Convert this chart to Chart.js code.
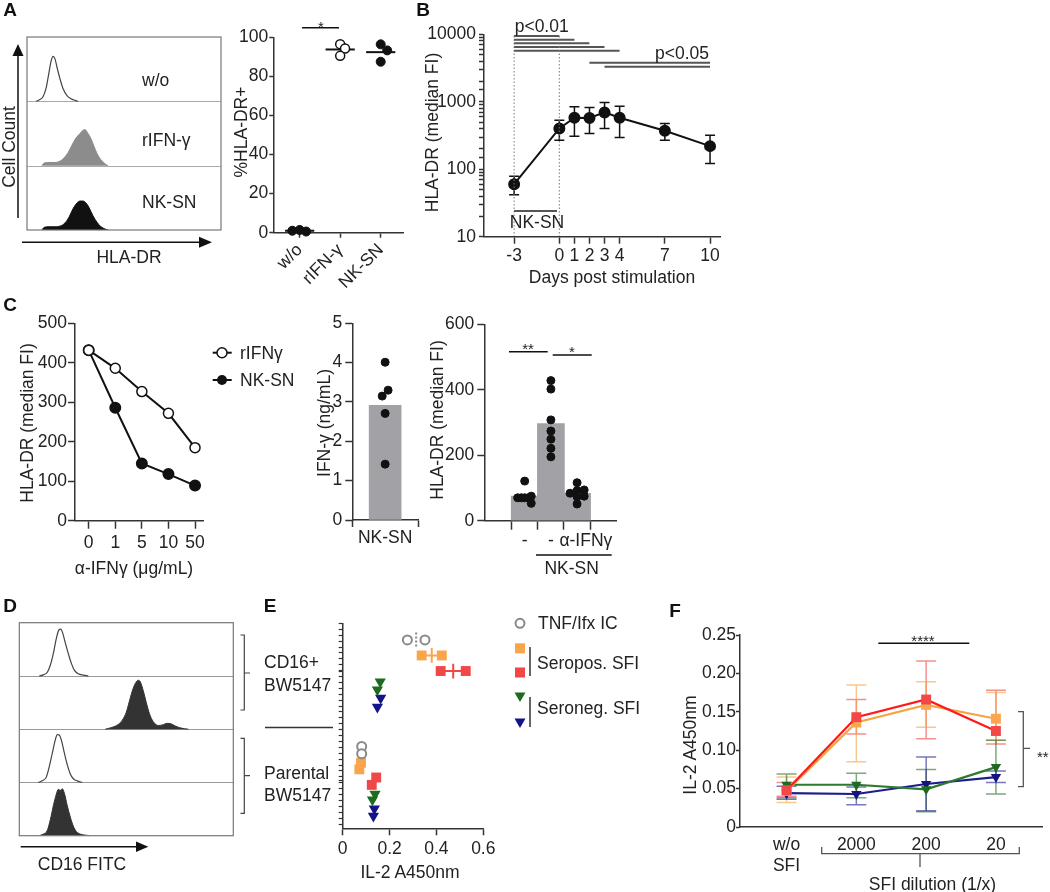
<!DOCTYPE html>
<html><head><meta charset="utf-8"><title>Figure</title>
<script src="https://cdn.jsdelivr.net/npm/chart.js@4.4.1/dist/chart.umd.min.js"></script>
<style>
html,body{margin:0;padding:0;background:#fff}
body{position:relative;width:1050px;height:892px;overflow:hidden}
canvas{position:absolute;z-index:1}
#ann{position:absolute;left:0;top:0;z-index:2}
#ann text{font-family:'Liberation Sans',Arial,sans-serif;font-size:17.5px;fill:#222;text-anchor:middle;dominant-baseline:central}
#ann text.st{text-anchor:start}
#ann text.L{font-weight:bold;font-size:19px;fill:#111}
#ann text.s{font-size:15px}
</style></head><body>
<svg id="ann" width="1050" height="892" xmlns="http://www.w3.org/2000/svg">
  <!-- panel letters -->
  <text class="L" x="10" y="9">A</text><text class="L" x="423" y="9">B</text>
  <text class="L" x="10" y="304">C</text><text class="L" x="10" y="605">D</text>
  <text class="L" x="270" y="605">E</text><text class="L" x="675" y="610">F</text>
  <!-- A histogram axes -->
  <g stroke="#111" stroke-width="1.5">
    <line x1="18" y1="218" x2="18" y2="54"/>
    <line x1="22" y1="242.3" x2="201" y2="242.3"/>
    <line x1="20.7" y1="846.7" x2="137" y2="846.7"/>
  </g>
  <polygon points="18,44 12.5,56 23.5,56" fill="#111"/>
  <polygon points="212,242.3 199,236.8 199,247.8" fill="#111"/>
  <polygon points="148.3,846.7 136,841.5 136,851.9" fill="#111"/>
  <text x="9" y="147" transform="rotate(-90 9 147)">Cell Count</text>
  <text x="129" y="257">HLA-DR</text>
  <text class="st" x="142" y="80">w/o</text>
  <text class="st" x="142" y="140">rIFN-γ</text>
  <text class="st" x="142" y="201.7">NK-SN</text>
  <!-- A dot plot -->
  <line x1="302" y1="27.7" x2="339" y2="27.7" stroke="#111" stroke-width="1.5"/>
  <text class="s" x="321" y="26">*</text>
  <text x="241" y="132" transform="rotate(-90 241 132)">%HLA-DR+</text>
  <!-- B -->
  <g stroke="#555" stroke-width="2">
    <line x1="514" y1="36" x2="559.3" y2="36"/>
    <line x1="514" y1="39.7" x2="574.4" y2="39.7"/>
    <line x1="514" y1="43.3" x2="589.4" y2="43.3"/>
    <line x1="514" y1="47" x2="604.5" y2="47"/>
    <line x1="514" y1="50.7" x2="619.6" y2="50.7"/>
    <line x1="589.4" y1="62.7" x2="710" y2="62.7"/>
    <line x1="604.5" y1="66.7" x2="710" y2="66.7"/>
    <line x1="514" y1="211" x2="557" y2="211"/>
  </g>
  <g stroke="#777" stroke-width="1" stroke-dasharray="1.5,2">
    <line x1="514.1" y1="36" x2="514.1" y2="236"/>
    <line x1="559.3" y1="36" x2="559.3" y2="236"/>
  </g>
  <text x="541.7" y="26">p&lt;0.01</text>
  <text x="682" y="52.5">p&lt;0.05</text>
  <text x="537" y="222">NK-SN</text>
  <text x="432" y="132.5" transform="rotate(-90 432 132.5)">HLA-DR (median FI)</text>
  <text x="612" y="277">Days post stimulation</text>
  <!-- C left -->
  <g stroke="#111" stroke-width="2">
    <line x1="212.7" y1="352.7" x2="231.7" y2="352.7"/>
    <line x1="212.7" y1="380" x2="231.7" y2="380"/>
  </g>
  <circle cx="222" cy="352.7" r="5" fill="#fff" stroke="#111" stroke-width="1.5"/>
  <circle cx="222" cy="380" r="5" fill="#111"/>
  <text class="st" x="240" y="352.7">rIFNγ</text>
  <text class="st" x="240" y="380">NK-SN</text>
  <text x="27" y="423" transform="rotate(-90 27 423)">HLA-DR (median FI)</text>
  <text x="134" y="568">α-IFNγ (μg/mL)</text>
  <!-- C middle / right -->
  <text x="324" y="423" transform="rotate(-90 324 423)">IFN-γ (ng/mL)</text>
  <text x="437" y="420" transform="rotate(-90 437 420)">HLA-DR (median FI)</text>
  <g stroke="#111" stroke-width="1.5">
    <line x1="509" y1="351.7" x2="547.7" y2="351.7"/>
    <line x1="552.7" y1="355" x2="591.7" y2="355"/>
    <line x1="536" y1="555" x2="611.7" y2="555"/>
  </g>
  <text class="s" x="528" y="348">**</text>
  <text class="s" x="572" y="351">*</text>
  <text x="571.7" y="568.3">NK-SN</text>
  <!-- D -->
  <g stroke="#444" stroke-width="1.2" fill="none">
    <path d="M240.5,635 H244.3 V710 H240.5 M244.3,673 H250"/>
    <path d="M240.5,738.3 H244.3 V813.3 H240.5 M244.3,775.7 H250"/>
  </g>
  <line x1="265" y1="727.5" x2="333" y2="727.5" stroke="#333" stroke-width="1.5"/>
  <text class="st" x="264" y="662.3">CD16+</text>
  <text class="st" x="264" y="685">BW5147</text>
  <text class="st" x="264" y="773.3">Parental</text>
  <text class="st" x="264" y="795">BW5147</text>
  <text x="82" y="863.5">CD16 FITC</text>
  <!-- E legend -->
  <circle cx="520" cy="623.3" r="4.5" fill="#fff" stroke="#888" stroke-width="2"/>
  <text class="st" x="538" y="623.3">TNF/Ifx IC</text>
  <rect x="515" y="643.3" width="10" height="10" fill="#f9a54b"/>
  <rect x="515" y="667.5" width="10" height="10" fill="#f04848"/>
  <polygon points="514.5,692.5 525.5,692.5 520,702" fill="#1e6b1e"/>
  <polygon points="514.5,718.5 525.5,718.5 520,728" fill="#14148a"/>
  <g stroke="#333" stroke-width="1.5">
    <line x1="530" y1="647" x2="530" y2="676"/>
    <line x1="530" y1="697" x2="530" y2="727"/>
  </g>
  <text class="st" x="537" y="663.3">Seropos. SFI</text>
  <text class="st" x="537" y="708.3">Seroneg. SFI</text>
  <text x="410" y="872">IL-2 A450nm</text>
  <!-- F -->
  <line x1="878.3" y1="643.3" x2="969.3" y2="643.3" stroke="#111" stroke-width="1.5"/>
  <text class="s" x="923" y="640">****</text>
  <g stroke="#555" stroke-width="1.3" fill="none">
    <path d="M1018,711.7 H1023.3 V786.7 H1018 M1023.3,748.3 H1030"/>
    <path d="M821.7,847 V853.7 H1019.3 V847 M920,853.7 V867"/>
  </g>
  <text class="st s" x="1037" y="756">**</text>
  <text x="932.5" y="884">SFI dilution (1/x)</text>
  <text x="690" y="745" transform="rotate(-90 690 745)">IL-2 A450nm</text>
</svg>
<script>
// ================= DATA =================
// Panel A – flow histograms: [channel, fraction of lane height]
const aHistWo  = [[9,0],[12,0.02],[16,0.07],[19,0.2],[22,0.45],[24,0.62],[26,0.7],[28,0.66],[30,0.53],[33,0.35],[36,0.2],[40,0.09],[44,0.04],[48,0.015],[51,0]];
const aHistIfn = [[15,0],[17,0.04],[22,0.05],[28,0.05],[33,0.07],[37,0.12],[41,0.2],[45,0.32],[49,0.43],[53,0.5],[56,0.55],[58,0.56],[61,0.5],[64,0.42],[67,0.3],[70,0.19],[74,0.09],[78,0.03],[81,0]];
const aHistNk  = [[15,0],[17,0.04],[22,0.05],[28,0.05],[33,0.06],[38,0.11],[42,0.2],[46,0.33],[50,0.42],[53,0.45],[56,0.45],[59,0.42],[62,0.35],[66,0.22],[70,0.12],[74,0.05],[78,0.015],[81,0]];
// Panel A – %HLA-DR+
const aDotCats = ['w/o', 'rIFN-γ', 'NK-SN'];
const aDotWo  = [1.0, 1.4, 0.6];
const aDotIfn = [96.5, 94.3, 90.5];
const aDotNk  = [96.4, 93.3, 87.5];
const aJitWo  = [-0.18, 0, 0.16];
const aJitIfn = [0, 0.12, 0];
const aJitNk  = [0, 0.16, 0];
// Panel B – HLA-DR median FI over time
const bDays = [-3, 0, 1, 2, 3, 4, 7, 10];
const bMean = [60, 403, 580, 575, 695, 580, 372, 220];
const bLo   = [42, 270, 309, 339, 403, 296, 270, 122];
const bHi   = [79, 533, 843, 824, 976, 860, 477, 320];
// Panel C – anti-IFNγ titration
const cDoseLabels = ['0', '1', '5', '10', '50'];
const cRifn = [432, 386, 327, 272, 185];
const cNksn = [432, 286, 145, 118, 89];
// Panel C – IFN-γ in NK-SN
const cIfn    = [4.01, 3.30, 3.15, 2.71, 1.42];
const cIfnJit = [0, 0.09, -0.09, 0, 0];
// Panel C – HLA-DR with/without NK-SN and blocking
const cHlaCats = ['-', '-', '\u2003α-IFNγ'];
const cHlaG1 = [121, 75, 70, 70, 70, 70, 53];
const cHlaG2 = [428, 402, 308, 274, 249, 221, 195];
const cHlaG3 = [116, 84, 92, 94, 73, 75, 51];
const cJitG1 = [0, 0.25, -0.27, -0.13, 0, 0.14, 0.25];
const cJitG2 = [0, 0, 0, 0, 0, 0, 0];
const cJitG3 = [0, -0.27, 0, 0.27, 0, 0.27, 0];
// Panel D – CD16 histograms (top to bottom lanes)
const dHist1 = [[20,0],[24,0.02],[28,0.07],[31,0.2],[34,0.42],[37,0.7],[39.5,0.86],[41.5,0.88],[43.5,0.8],[46,0.62],[49,0.42],[52,0.24],[55,0.11],[59,0.04],[64,0.015],[69,0]];
const dHist2 = [[86,0],[90,0.02],[95,0.05],[99,0.09],[103,0.17],[107,0.32],[110,0.52],[113,0.72],[116,0.86],[119,0.92],[121,0.89],[124,0.72],[127,0.5],[130,0.3],[133,0.17],[136,0.1],[139,0.07],[143,0.08],[148,0.11],[152,0.1],[156,0.06],[160,0.03],[165,0.01],[169,0]];
const dHist3 = [[19,0],[23,0.03],[27,0.1],[30,0.3],[33,0.55],[36,0.8],[38,0.9],[40,0.89],[42,0.8],[45,0.56],[48,0.33],[51,0.16],[54,0.07],[58,0.03],[63,0]];
const dHist4 = [[20,0],[24,0.03],[28,0.1],[31,0.3],[34,0.56],[37,0.78],[39,0.87],[41,0.85],[43,0.88],[45,0.8],[48,0.56],[51,0.35],[54,0.18],[57,0.08],[61,0.03],[66,0.01],[71,0]];
// Panel E – IL-2 A450nm (first two: CD16+ BW5147, last two: parental)
const eTnfX = [0.276, 0.351, 0.081, 0.081]; const eTnfLane = [2.0, 2.0, 15.0, 15.9];
const eOrX  = [0.337, 0.423, 0.078, 0.071]; const eOrLane  = [3.9, 3.9, 17.0, 17.8];
const eRdX  = [0.418, 0.525, 0.143, 0.124]; const eRdLane  = [5.8, 5.8, 18.8, 19.7];
const eGrX  = [0.160, 0.148, 0.138, 0.127]; const eGrLane  = [7.1, 8.1, 20.8, 21.5];
const eBlX  = [0.162, 0.148, 0.135, 0.131]; const eBlLane  = [9.1, 10.2, 22.6, 23.5];
const eGroupLane = [5.9, 19.2];
// Panel F – IL-2 A450nm vs SFI dilution
const fCats = [['w/o', 'SFI'], '2000', '200', '20'];
const fRed    = [0.048, 0.143, 0.166, 0.125]; const fRedLo = [0.040, 0.121, 0.115, 0.108]; const fRedHi = [0.058, 0.166, 0.216, 0.178];
const fOrange = [0.047, 0.136, 0.159, 0.141]; const fOrLo  = [0.032, 0.085, 0.130, 0.113]; const fOrHi  = [0.065, 0.185, 0.189, 0.175];
const fGreen  = [0.055, 0.055, 0.049, 0.078]; const fGrLo  = [0.038, 0.038, 0.020, 0.043]; const fGrHi  = [0.069, 0.070, 0.075, 0.113];
const fBlue   = [0.044, 0.043, 0.056, 0.065]; const fBlLo  = [0.036, 0.029, 0.021, 0.058]; const fBlHi  = [0.053, 0.052, 0.091, 0.073];

// ================= HELPERS =================
const AX = '#333', TXT = '#222';
Chart.defaults.font.family = "'Liberation Sans', Arial, sans-serif";
Chart.defaults.font.size = 17.5;
Chart.defaults.color = TXT;
Chart.defaults.animation = false;
Chart.defaults.events = [];
Chart.defaults.plugins.legend.display = false;
Chart.defaults.plugins.tooltip.enabled = false;

const mean = a => a.reduce((s, v) => s + v, 0) / a.length;
const pts = (xs, ys) => xs.map((x, i) => ({x, y: ys[i]}));
const lane = (p, k) => p.map(q => ({x: q[0], y: k + q[1]}));

Chart.register({
  id: 'err',
  beforeDatasetsDraw(chart) {
    const ctx = chart.ctx, xs = chart.scales.x, ys = chart.scales.y;
    chart.data.datasets.forEach(ds => {
      if (!ds.errLo) return;
      ctx.save();
      ctx.strokeStyle = ds.errColor; ctx.lineWidth = ds.errWidth || 1.5;
      ds.data.forEach((p, j) => {
        const x = xs.getPixelForValue(p.x), y1 = ys.getPixelForValue(ds.errLo[j]), y2 = ys.getPixelForValue(ds.errHi[j]);
        const w = ds.capW || 5;
        ctx.beginPath();
        ctx.moveTo(x, y1); ctx.lineTo(x, y2);
        ctx.moveTo(x - w, y1); ctx.lineTo(x + w, y1);
        ctx.moveTo(x - w, y2); ctx.lineTo(x + w, y2);
        ctx.stroke();
      });
      ctx.restore();
    });
  }
});
Chart.register({
  id: 'lanes',
  beforeDatasetsDraw(chart, a, o) {
    if (!o || !o.n) return;
    const ctx = chart.ctx, c = chart.chartArea, ys = chart.scales.y;
    ctx.save(); ctx.strokeStyle = o.div; ctx.lineWidth = 1;
    for (let k = 1; k < o.n; k++) {
      const y = Math.round(ys.getPixelForValue(k)) + 0.5;
      ctx.beginPath(); ctx.moveTo(c.left, y); ctx.lineTo(c.right, y); ctx.stroke();
    }
    ctx.restore();
  },
  afterDatasetsDraw(chart, a, o) {
    if (!o || !o.n) return;
    const ctx = chart.ctx, c = chart.chartArea;
    ctx.save(); ctx.strokeStyle = o.frame; ctx.lineWidth = 1.2;
    ctx.strokeRect(c.left, c.top, c.right - c.left, c.bottom - c.top);
    ctx.restore();
  }
});

function ax(o) {
  const s = {
    type: o.type || 'linear', min: o.min, max: o.max, reverse: !!o.reverse,
    border: {color: AX, width: 1.5, dash: o.dash || []},
    grid: {drawOnChartArea: false, color: AX, tickColor: AX, tickLength: o.tl === undefined ? 5 : o.tl, tickWidth: o.tw || 1.5, drawTicks: o.tl !== 0},
    ticks: {color: TXT, padding: o.pad === undefined ? 2 : o.pad, autoSkip: false, maxRotation: o.rot || 0, minRotation: o.rot || 0, font: {size: 17.5}}
  };
  if (o.cb) s.ticks.callback = o.cb;
  if (o.list) s.afterBuildTicks = sc => { sc.ticks = o.list.map(v => ({value: v})); };
  return s;
}

function mk(x0, y0, x1, y1, yw, xh, pad, cfg) {
  const [pt, pr, pb, pl] = pad;
  const left = Math.round(x0 - yw - pl), top = Math.round(y0 - pt);
  const W = Math.round(x1 + pr) - left, H = Math.round(y1 + xh + pb) - top;
  const c = document.createElement('canvas');
  c.width = W; c.height = H;
  c.style.left = left + 'px'; c.style.top = top + 'px';
  c.style.width = W + 'px'; c.style.height = H + 'px';
  document.body.appendChild(c);
  const o = cfg.options || (cfg.options = {});
  o.responsive = false; o.maintainAspectRatio = false; o.devicePixelRatio = 1; o.animation = false;
  o.layout = {padding: {top: y0 - top, right: left + W - x1, bottom: top + H - y1 - xh, left: x0 - yw - left}};
  if (o.scales) {
    if (o.scales.x && o.scales.x.display !== false) o.scales.x.afterFit = s => { s.height = xh; };
    if (o.scales.y && o.scales.y.display !== false) o.scales.y.afterFit = s => { s.width = yw; };
  }
  return new Chart(c, cfg);
}
const curve = (data, k, stroke, fillc) => ({
  data: lane(data, k), borderColor: stroke, backgroundColor: fillc || stroke,
  borderWidth: fillc ? 1 : 1.2, pointRadius: 0, fill: fillc ? {value: k} : false,
  cubicInterpolationMode: 'monotone'
});

// ================= PANEL A =================
mk(27, 37, 221, 230, 0, 0, [2, 2, 2, 2], {
  type: 'line',
  data: {datasets: [curve(aHistWo, 2, '#444'), curve(aHistIfn, 1, '#8c8c8c', '#8c8c8c'), curve(aHistNk, 0, '#111', '#111')]},
  options: {scales: {x: {type: 'linear', display: false, min: 0, max: 194}, y: {display: false, min: 0, max: 3}},
            plugins: {lanes: {n: 3, div: '#aaa', frame: '#777'}}}
});

const meanLine = (g, arr) => ({data: [{x: g - 0.36, y: mean(arr)}, {x: g + 0.36, y: mean(arr)}], showLine: true, pointRadius: 0, borderColor: '#111', borderWidth: 2, clip: false});
mk(273.3, 37.3, 403, 232.7, 50, 62, [14, 20, 4, 4], {
  type: 'scatter',
  data: {datasets: [
    {data: pts(aDotWo.map((v, i) => 0 + aJitWo[i]), aDotWo), pointRadius: 4.5, backgroundColor: '#111', borderColor: '#111', clip: false},
    {data: pts(aDotIfn.map((v, i) => 1 + aJitIfn[i]), aDotIfn), pointRadius: 4.5, backgroundColor: '#fff', borderColor: '#111', borderWidth: 1.5, clip: false},
    {data: pts(aDotNk.map((v, i) => 2 + aJitNk[i]), aDotNk), pointRadius: 4.5, backgroundColor: '#111', borderColor: '#111', clip: false},
    meanLine(0, aDotWo), meanLine(1, aDotIfn), meanLine(2, aDotNk)
  ]},
  options: {scales: {
    x: ax({min: -0.65, max: 2.55, list: [0, 1, 2], cb: v => aDotCats[v], rot: 45, tl: 5, pad: 2}),
    y: ax({min: 0, max: 100, list: [0, 20, 40, 60, 80, 100], tl: 4, pad: 1})
  }}
});

// ================= PANEL B =================
const isPow10 = v => Math.abs(Math.log10(v) - Math.round(Math.log10(v))) < 1e-9;
mk(484, 34.3, 720, 236.7, 62, 32, [14, 10, 4, 4], {
  type: 'scatter',
  data: {datasets: [{data: pts(bDays, bMean), showLine: true, borderColor: '#111', borderWidth: 2, pointRadius: 5,
    backgroundColor: '#111', errLo: bLo, errHi: bHi, errColor: '#111', capW: 5, errWidth: 1.5, clip: false}]},
  options: {scales: {
    x: ax({min: -5, max: 10.66, list: bDays, tl: 7, pad: 2}),
    y: ax({type: 'logarithmic', min: 10, max: 10000, cb: v => isPow10(v) ? String(Math.round(v)) : '', tl: 5, pad: 3})
  }}
});

// ================= PANEL C =================
mk(75, 323.3, 203, 520.7, 52, 40, [14, 14, 4, 4], {
  type: 'scatter',
  data: {datasets: [
    {data: pts([0, 1, 2, 3, 4], cRifn), showLine: true, borderColor: '#111', borderWidth: 2, pointRadius: 5, backgroundColor: '#fff', pointBorderWidth: 1.5, clip: false},
    {data: pts([0, 1, 2, 3, 4], cNksn), showLine: true, borderColor: '#111', borderWidth: 2, pointRadius: 5, backgroundColor: '#111', clip: false}
  ]},
  options: {scales: {
    x: ax({min: -0.515, max: 4.3, list: [0, 1, 2, 3, 4], cb: v => cDoseLabels[v], tl: 8, pad: 4}),
    y: ax({min: 0, max: 500, list: [0, 100, 200, 300, 400, 500], tl: 7, pad: 1})
  }}
});

mk(352.3, 323.3, 418, 520, 40, 40, [14, 14, 4, 4], {
  type: 'scatter',
  data: {datasets: [
    {data: pts(cIfnJit, cIfn), pointRadius: 4, backgroundColor: '#111', borderColor: '#111', order: 0, clip: false},
    {type: 'bar', data: [{x: 0, y: mean(cIfn)}], backgroundColor: '#a2a2a6', barThickness: 32, order: 1}
  ]},
  options: {scales: {
    x: ax({min: -0.5, max: 0.5, list: [0], cb: () => 'NK-SN', tl: 7, pad: 1}),
    y: ax({min: 0, max: 5, list: [0, 1, 2, 3, 4, 5], tl: 7, pad: 3})
  }}
});

mk(484.3, 324.3, 616.7, 520.7, 52, 40, [14, 40, 4, 4], {
  type: 'scatter',
  data: {datasets: [
    {data: pts(cJitG1, cHlaG1), pointRadius: 4, backgroundColor: '#111', borderColor: '#111', order: 0, clip: false},
    {data: pts(cJitG2.map(j => 1 + j), cHlaG2), pointRadius: 4, backgroundColor: '#111', borderColor: '#111', order: 0, clip: false},
    {data: pts(cJitG3.map(j => 2 + j), cHlaG3), pointRadius: 4, backgroundColor: '#111', borderColor: '#111', order: 0, clip: false},
    {type: 'bar', data: pts([0, 1, 2], [mean(cHlaG1), mean(cHlaG2), mean(cHlaG3)]), backgroundColor: '#a2a2a6', barThickness: 27, order: 1}
  ]},
  options: {scales: {
    x: ax({min: -0.7, max: 2.67, list: [0, 1, 2], cb: v => cHlaCats[v], tl: 9, pad: 1}),
    y: ax({min: 0, max: 600, list: [0, 200, 400, 600], tl: 7, pad: 3})
  }}
});

// ================= PANEL D =================
mk(19.3, 622.7, 233.3, 835.7, 0, 0, [2, 2, 2, 2], {
  type: 'line',
  data: {datasets: [curve(dHist1, 3, '#444'), curve(dHist2, 2, '#333', '#333'), curve(dHist3, 1, '#444'), curve(dHist4, 0, '#333', '#333')]},
  options: {scales: {x: {type: 'linear', display: false, min: 0, max: 214}, y: {display: false, min: 0, max: 4}},
            plugins: {lanes: {n: 4, div: '#999', frame: '#777'}}}
});

// ================= PANEL E =================
const eMinor = Array.from({length: 35}, (_, i) => i * 0.72).concat(eGroupLane);
const hSeg = (xs, ys, col) => ({data: [{x: xs[0], y: ys[0]}, {x: xs[1], y: ys[1]}], showLine: true, pointRadius: 0, borderColor: col, borderWidth: 2});
const vSeg = (xs, ys, col, dash) => ({data: [{x: mean(xs.slice(0, 2)), y: ys[0] - 0.9}, {x: mean(xs.slice(0, 2)), y: ys[0] + 0.9}], showLine: true, pointRadius: 0, borderColor: col, borderWidth: 2, borderDash: dash || []});
mk(342.7, 619, 483.3, 828.3, 8, 45, [6, 16, 4, 4], {
  type: 'scatter',
  data: {datasets: [
    {data: pts(eTnfX, eTnfLane), pointStyle: 'circle', pointRadius: 4.5, backgroundColor: '#fff', borderColor: '#8a8a8a', borderWidth: 2, clip: false},
    {data: pts(eOrX, eOrLane), pointStyle: 'rect', pointRadius: 7, backgroundColor: '#f9a54b', borderWidth: 0, clip: false},
    {data: pts(eRdX, eRdLane), pointStyle: 'rect', pointRadius: 7, backgroundColor: '#f04848', borderWidth: 0, clip: false},
    {data: pts(eGrX, eGrLane), pointStyle: 'triangle', pointRotation: 180, rotation: 180, pointRadius: 6.5, backgroundColor: '#1e6b1e', borderWidth: 0, clip: false},
    {data: pts(eBlX, eBlLane), pointStyle: 'triangle', pointRotation: 180, rotation: 180, pointRadius: 6.5, backgroundColor: '#14148a', borderWidth: 0, clip: false},
    hSeg(eOrX, eOrLane, '#f9a54b'), vSeg(eOrX, eOrLane, '#f9a54b'),
    hSeg(eRdX, eRdLane, '#f04848'), vSeg(eRdX, eRdLane, '#f04848'),
    vSeg(eTnfX, eTnfLane, '#8a8a8a', [2, 2])
  ]},
  options: {scales: {
    x: ax({min: 0, max: 0.6, list: [0, 0.2, 0.4, 0.6], cb: v => v === 0 ? '0' : v.toFixed(1), tl: 7, pad: 3}),
    y: ax({min: 0, max: 25, reverse: true, list: eMinor, cb: () => '', tl: 4, pad: 0, tw: 1.2})
  }}
});

// ================= PANEL F =================
const fDs = (vals, lo, hi, line, mark, errc, style, r, ord) => ({
  data: pts([0, 1, 2, 3], vals), showLine: true, borderColor: line, borderWidth: 2.2,
  pointStyle: style, pointRadius: r, pointRotation: style === 'triangle' ? 180 : 0, rotation: style === 'triangle' ? 180 : 0,
  backgroundColor: mark, pointBackgroundColor: mark, pointBorderWidth: 0,
  errLo: lo, errHi: hi, errColor: errc, capW: 10, errWidth: 1.5, order: ord, clip: false
});
mk(740, 635, 1043, 827, 58, 50, [14, 6, 4, 4], {
  type: 'scatter',
  data: {datasets: [
    fDs(fRed, fRedLo, fRedHi, '#ff1a1a', '#f24848', 'rgba(240,70,70,0.6)', 'rect', 7, 0),
    fDs(fOrange, fOrLo, fOrHi, '#f7a443', '#f9a64e', 'rgba(247,164,67,0.6)', 'rect', 7, 1),
    fDs(fGreen, fGrLo, fGrHi, '#2c7a2c', '#1f6a1f', 'rgba(40,110,40,0.6)', 'triangle', 6, 2),
    fDs(fBlue, fBlLo, fBlHi, '#1c1c8c', '#141480', 'rgba(30,30,140,0.6)', 'triangle', 6, 3)
  ]},
  options: {scales: {
    x: ax({min: -0.667, max: 3.66, list: [0, 1, 2, 3], cb: v => fCats[v], tl: 0, pad: 8, dash: [2, 2]}),
    y: ax({min: 0, max: 0.25, list: [0, 0.05, 0.1, 0.15, 0.2, 0.25], cb: v => v === 0 ? '0' : v.toFixed(2), tl: 4, pad: 0})
  }}
});
</script>
</body></html>
